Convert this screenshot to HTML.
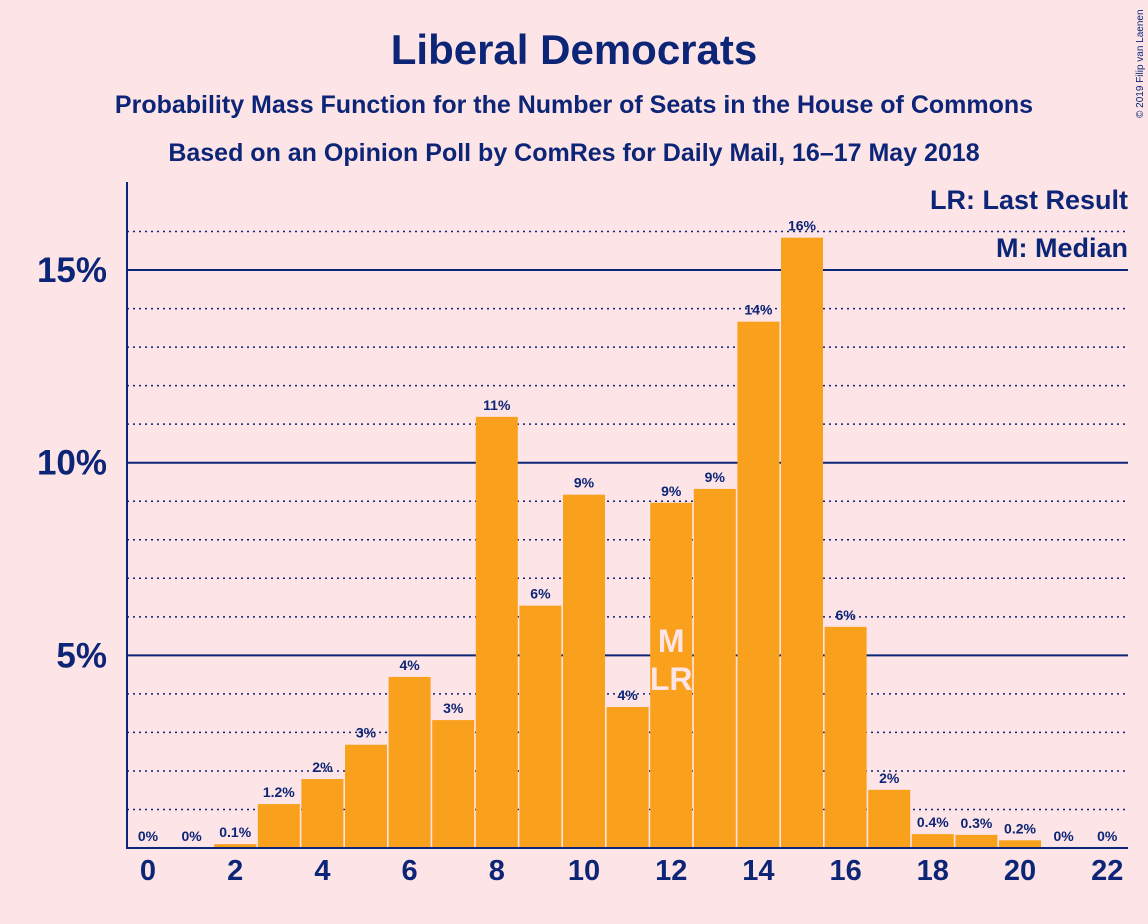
<!DOCTYPE html>
<html><head><meta charset="utf-8"><style>
body{margin:0;background:#fde4e6;}
svg{display:block;font-family:"Liberation Sans",sans-serif;}
</style></head><body>
<svg id="chart" width="1148" height="924" xmlns="http://www.w3.org/2000/svg">
<rect width="1148" height="924" fill="#fde4e6"/>
<text x="574" y="64" text-anchor="middle" font-size="42" font-weight="bold" fill="#0c2577">Liberal Democrats</text>
<text x="574" y="113" text-anchor="middle" font-size="25" font-weight="bold" fill="#0c2577">Probability Mass Function for the Number of Seats in the House of Commons</text>
<text x="574" y="161" text-anchor="middle" font-size="25" font-weight="bold" fill="#0c2577">Based on an Opinion Poll by ComRes for Daily Mail, 16–17 May 2018</text>
<text transform="translate(1143,118) rotate(-90)" font-size="10" fill="#0c2577">© 2019 Filip van Laenen</text>
<g id="grid"></g>
<g id="bars"></g>
<g id="labels"></g>
<line x1="127" y1="182" x2="127" y2="849" stroke="#0c2577" stroke-width="2"/>
<line x1="127" y1="848" x2="1128" y2="848" stroke="#0c2577" stroke-width="2"/>
<text x="1128" y="209" text-anchor="end" font-size="27" font-weight="bold" fill="#0c2577">LR: Last Result</text>
<text x="1128" y="257" text-anchor="end" font-size="27" font-weight="bold" fill="#0c2577">M: Median</text>
</svg>
<script>
const seats=[0,1,2,3,4,5,6,7,8,9,10,11,12,13,14,15,16,17,18,19,20,21,22];
const values=[0,0,0.1,1.14,1.79,2.68,4.44,3.32,11.19,6.29,9.17,3.66,8.96,9.32,13.66,15.84,5.74,1.51,0.36,0.34,0.2,0,0];
const valueLabels=["0%","0%","0.1%","1.2%","2%","3%","4%","3%","11%","6%","9%","4%","9%","9%","14%","16%","6%","2%","0.4%","0.3%","0.2%","0%","0%"];
const yTicks=[5,10,15];
const yTickLabels=["5%","10%","15%"];
const xTicks=[0,2,4,6,8,10,12,14,16,18,20,22];
const medianSeat=12, lastResultSeat=12;
const NS="http://www.w3.org/2000/svg";
const x=s=>148+s*43.6;
const y=v=>848-v*38.53;
function mk(t,a,p){const e=document.createElementNS(NS,t);for(const k in a)e.setAttribute(k,a[k]);p.appendChild(e);return e;}
const grid=document.getElementById('grid'),bars=document.getElementById('bars'),labels=document.getElementById('labels');
for(let p=1;p<=16;p++){
  const solid=p%5===0;
  const l=mk('line',{x1:127,x2:1128,y1:y(p),y2:y(p),stroke:'#0c2577','stroke-width':solid?2:1.5,'stroke-dasharray':solid?'':'2,4'},grid);
  
  
}
yTicks.forEach((v,i)=>{
  const t=mk('text',{x:107,y:y(v)+12,'text-anchor':'end','font-size':35,'font-weight':'bold',fill:'#0c2577'},labels);
  t.textContent=yTickLabels[i];
  
  
});
xTicks.forEach(s=>{
  const t=mk('text',{x:x(s),y:880,'text-anchor':'middle','font-size':29,'font-weight':'bold',fill:'#0c2577'},labels);
  t.textContent=s;
  
  
});
seats.forEach((s,i)=>{
  const v=values[i];
  if(v>0){
    const r=mk('rect',{x:x(s)-21,y:y(v),width:42,height:848-y(v),fill:'#f9a11c'},bars);
    
    
  }
  const t=mk('text',{x:x(s),y:y(v)-7,'text-anchor':'middle','font-size':14,'font-weight':'bold',fill:'#0c2577'},labels);
  t.textContent=valueLabels[i];
  
  
});
const m=mk('text',{x:x(medianSeat),y:652,'text-anchor':'middle','font-size':32,'font-weight':'bold',fill:'#fde4e6'},labels);
m.textContent='M';


const lr=mk('text',{x:x(lastResultSeat),y:690,'text-anchor':'middle','font-size':32,'font-weight':'bold',fill:'#fde4e6'},labels);
lr.textContent='LR';


</script>
</body></html>
